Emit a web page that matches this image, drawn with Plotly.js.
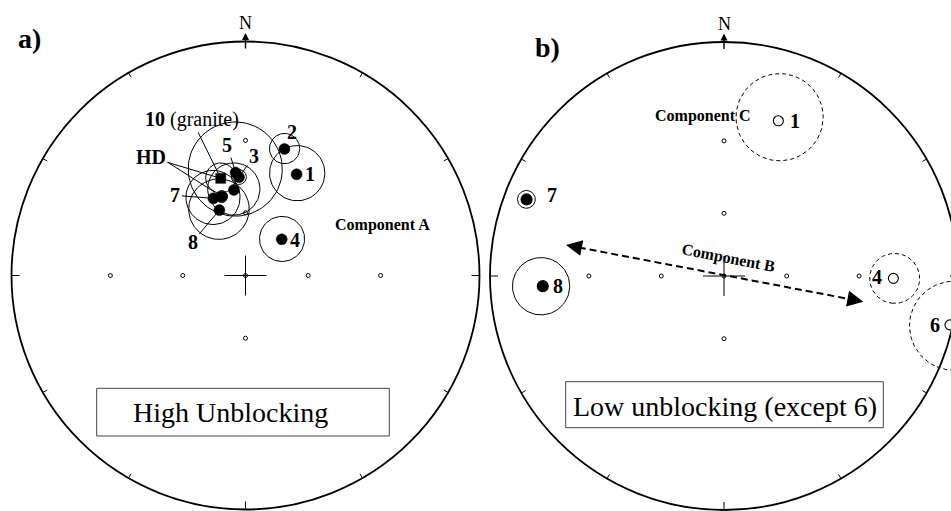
<!DOCTYPE html>
<html>
<head>
<meta charset="utf-8">
<script src="https://cdn.plot.ly/plotly-3.0.1.min.js"></script>
<style>
  html, body { margin: 0; padding: 0; background: #fff; overflow: hidden; }
  #chart { width: 951px; height: 511px; }
</style>
</head>
<body>
<div id="chart"></div>
<script>
// ---------- Panel a: high-unblocking site means (lower hemisphere) ----------
const siteA = ['1', '2', '3', '4', '5', '7', '8', '', '10', 'HD'];
const decA  = [26.8, 17.1, 356.2, 45.0, 354.5, 337.4, 338.2, 352.3, 345.7, 343.2];
const incA  = [38.3, 31.0, 44.3, 65.3, 42.3, 50.7, 56.5, 49.5, 43.6, 51.2];
const a95A  = [10.9, 5.6, 3.1, 10.5, 19.0, 11.7, 13.5, 11.2, 6.2, 2.6];
const symA  = ['circle', 'circle', 'circle', 'circle', 'circle', 'circle', 'circle', 'circle', 'square', 'circle'];

// ---------- Panel b: low-unblocking site means (negative inclination = upper hemisphere) ----------
const siteB = ['1', '4', '6', '7', '8'];
const decB  = [19.3, 90.8, 102.2, 291.2, 266.8];
const incB  = [-19.8, -18.2, -0.7, 5.7, 14.4];
const a95B  = [14.1, 8.0, 10.9, 2.4, 8.7];

// Net furniture: reference dots at these inclinations / declinations, ticks on the primitive
const gridInc = [60, 30];
const gridDec = [0, 90, 180, 270];
const tickDec = [30, 60, 90, 120, 150, 180, 210, 240, 270, 300, 330];

// ---------- page geometry ----------
const W = 951, H = 511, R = 234;            // primitive radius in px
const CA = [245.5, 275.5], CB = [724, 276]; // net centres in px
const SERIF = 'Liberation Serif, Times New Roman, serif';
const rad = Math.PI / 180;

// Stereographic (equal-angle) projection, |inc| so upper-hemisphere points share the plot
function proj(dec, inc) {
  const d = dec * rad, i = Math.abs(inc) * rad;
  const x = Math.cos(i) * Math.sin(d), y = Math.cos(i) * Math.cos(d), z = Math.sin(i);
  return [x / (1 + z), y / (1 + z)];
}
// Cone of confidence (small circle of radius a95 about the mean) projected point by point
function smallCircle(dec, inc, a95) {
  const d = dec * rad, i = Math.abs(inc) * rad, a = a95 * rad;
  const v = [Math.cos(i) * Math.sin(d), Math.cos(i) * Math.cos(d), Math.sin(i)];
  const e1 = [Math.cos(d), -Math.sin(d), 0];
  const e2 = [Math.sin(i) * Math.sin(d), Math.sin(i) * Math.cos(d), -Math.cos(i)];
  const xs = [], ys = [];
  for (let t = 0; t <= 360; t += 4) {
    const c = Math.cos(t * rad), s = Math.sin(t * rad);
    const p = [0, 1, 2].map(k => Math.cos(a) * v[k] + Math.sin(a) * (c * e1[k] + s * e2[k]));
    xs.push(p[0] / (1 + p[2]));
    ys.push(p[1] / (1 + p[2]));
  }
  return [xs, ys];
}

const traces = [];
const shapes = [];
const annotations = [];

function circlesTrace(decs, incs, a95s, keep, dash, xa, ya) {
  const xs = [], ys = [];
  decs.forEach((d, k) => {
    if (!keep(k)) return;
    const [cx, cy] = smallCircle(d, incs[k], a95s[k]);
    xs.push(...cx, null); ys.push(...cy, null);
  });
  return { x: xs, y: ys, mode: 'lines', xaxis: xa, yaxis: ya,
           line: { color: '#000', width: 1, dash: dash }, hoverinfo: 'skip' };
}

const txt = (o) => Object.assign({ showarrow: false, xanchor: 'center', yanchor: 'middle' }, o);

function netFurniture(xa, ya, xref, yref) {
  // primitive circle
  shapes.push({ type: 'circle', xref, yref, x0: -1, x1: 1, y0: -1, y1: 1,
                line: { color: '#000', width: 1.8 } });
  // ticks every 30 degrees, longer at E, S, W
  tickDec.forEach(d => {
    const L = (d % 90 === 0 ? 8 : 5) / R;
    const sx = Math.sin(d * rad), sy = Math.cos(d * rad);
    shapes.push({ type: 'line', xref, yref, x0: sx, y0: sy, x1: (1 - L) * sx, y1: (1 - L) * sy,
                  line: { color: '#000', width: 1 } });
  });
  // central cross
  shapes.push({ type: 'line', xref, yref, x0: -21 / R, x1: 21 / R, y0: 0, y1: 0, line: { color: '#000', width: 1 } });
  shapes.push({ type: 'line', xref, yref, x0: 0, x1: 0, y0: -20 / R, y1: 20 / R, line: { color: '#000', width: 1 } });
  // reference dots
  const gx = [0], gy = [0];
  gridInc.forEach(i => gridDec.forEach(d => { const p = proj(d, i); gx.push(p[0]); gy.push(p[1]); }));
  traces.push({ x: gx, y: gy, mode: 'markers', xaxis: xa, yaxis: ya, hoverinfo: 'skip',
                marker: { symbol: 'circle-open', size: 4, color: '#000', opacity: 1, line: { width: 1, color: '#000' } } });
  // north arrow and label
  annotations.push({ xref, yref, x: 0, y: 1 + 8.5 / R, ax: 0, ay: 17, text: '', showarrow: true,
                     arrowhead: 2, arrowsize: 1, arrowwidth: 1.4, arrowcolor: '#000', standoff: 0 });
  annotations.push(txt({ xref, yref, x: 0, y: 1 + 18.5 / R, text: 'N',
                         font: { family: SERIF, size: 18, color: '#000' } }));
}

// ---------------- panel a ----------------
netFurniture('x', 'y', 'x', 'y');
traces.push(circlesTrace(decA, incA, a95A, k => true, 'solid', 'x', 'y'));
{
  const pts = decA.map((d, k) => proj(d, incA[k]));
  traces.push({ x: pts.map(p => p[0]), y: pts.map(p => p[1]), mode: 'markers', xaxis: 'x', yaxis: 'y',
                text: siteA, hoverinfo: 'text',
                marker: { symbol: symA, size: symA.map(s => s === 'square' ? 10 : 11), color: '#000',
                          opacity: 1, line: { width: 0.5, color: '#000' } } });
}
const pA = name => proj(decA[siteA.indexOf(name)], incA[siteA.indexOf(name)]);
const labFont = { family: SERIF, size: 20, color: '#000' };
// plain labels beside the marks
[['1', 13, 0], ['2', 8, 17], ['4', 13, -1]].forEach(([n, dx, dy]) => {
  const p = pA(n);
  annotations.push(txt({ xref: 'x', yref: 'y', x: p[0], y: p[1], text: '<b>' + n + '</b>',
                         xshift: dx, yshift: dy, font: labFont }));
});
// labels with leader lines
const leader = (o) => Object.assign({ showarrow: true, arrowhead: 0, arrowwidth: 1, arrowcolor: '#000',
                                      font: labFont, xref: 'x', yref: 'y' }, o);
[['5', -8.5, -27.5], ['3', 15, -21], ['7', -38, -3], ['8', -26.5, 31.5]].forEach(([n, ax, ay]) => {
  const p = pA(n);
  annotations.push(leader({ x: p[0], y: p[1], ax, ay, text: '<b>' + n + '</b>', standoff: 5 }));
});
{
  const p10 = pA('10'), pHD = pA('HD');
  annotations.push(leader({ x: p10[0], y: p10[1], ax: -29, ay: -59, text: '<b>10</b> (granite)', standoff: 5 }));
  annotations.push(leader({ x: p10[0], y: p10[1], ax: -70, ay: -21, text: '<b>HD</b>', standoff: 5 }));
  annotations.push(leader({ x: pHD[0], y: pHD[1], ax: -55, ay: -35, text: '', standoff: 8 }));
}
annotations.push(txt({ xref: 'x', yref: 'y', x: (382 - CA[0]) / R, y: (CA[1] - 225) / R,
                       text: '<b>Component A</b>', font: { family: SERIF, size: 16, color: '#000' } }));

// ---------------- panel b ----------------
netFurniture('x2', 'y2', 'x2', 'y2');
traces.push(circlesTrace(decB, incB, a95B, k => incB[k] >= 0, 'solid', 'x2', 'y2'));
traces.push(circlesTrace(decB, incB, a95B, k => incB[k] < 0, '4px,3px', 'x2', 'y2'));
{
  const pts = decB.map((d, k) => proj(d, incB[k]));
  traces.push({ x: pts.map(p => p[0]), y: pts.map(p => p[1]), mode: 'markers', xaxis: 'x2', yaxis: 'y2',
                text: siteB, hoverinfo: 'text',
                marker: { symbol: incB.map(i => i < 0 ? 'circle-open' : 'circle'),
                          size: incB.map(i => i < 0 ? 10 : 11), color: '#000', opacity: 1,
                          line: { width: 1.1, color: '#000' } } });
}
const pB = name => proj(decB[siteB.indexOf(name)], incB[siteB.indexOf(name)]);
[['1', 17, 0], ['4', -16.5, 1.5], ['6', -15, 0], ['7', 25, 4], ['8', 15.5, 0]].forEach(([n, dx, dy]) => {
  const p = pB(n);
  annotations.push(txt({ xref: 'x2', yref: 'y2', x: p[0], y: p[1], xshift: dx, yshift: dy,
                         text: '<b>' + n + '</b>', font: labFont }));
});
annotations.push(txt({ xref: 'x2', yref: 'y2', x: (703 - CB[0]) / R, y: (CB[1] - 116) / R,
                       text: '<b>Component C</b>', font: { family: SERIF, size: 16, color: '#000' } }));
annotations.push(txt({ xref: 'x2', yref: 'y2', x: (728 - CB[0]) / R, y: (CB[1] - 258) / R, textangle: 11,
                       text: '<b>Component B</b>', font: { family: SERIF, size: 16, color: '#000' } }));
// double-headed dashed arrow for the component B trend (px offsets from the centre, y up)
{
  const P1 = [-158, 31], P2 = [139.3, -25.7];
  const len = Math.hypot(P2[0] - P1[0], P2[1] - P1[1]);
  const u = [(P2[0] - P1[0]) / len, (P2[1] - P1[1]) / len];
  const hl = 13;
  shapes.push({ type: 'line', xref: 'x2', yref: 'y2',
                x0: (P1[0] + hl * u[0]) / R, y0: (P1[1] + hl * u[1]) / R,
                x1: (P2[0] - hl * u[0]) / R, y1: (P2[1] - hl * u[1]) / R,
                line: { color: '#000', width: 2, dash: '7px,4px' } });
  [[P1, 1], [P2, -1]].forEach(([P, sgn]) => {
    annotations.push({ xref: 'x2', yref: 'y2', x: P[0] / R, y: P[1] / R, text: '', showarrow: true,
                       ax: sgn * 14 * u[0], ay: -sgn * 14 * u[1], arrowhead: 2, arrowsize: 1.6,
                       arrowwidth: 2, arrowcolor: '#000', standoff: 0 });
  });
}

// ---------------- panel letters and captions ----------------
const px = (x, y) => ({ xref: 'paper', yref: 'paper', x: x / W, y: 1 - y / H });
annotations.push(txt(Object.assign(px(29.5, 38), { text: '<b>a)</b>',
                 font: { family: SERIF, size: 28, color: '#000' } })));
annotations.push(txt(Object.assign(px(547.5, 47), { text: '<b>b)</b>',
                 font: { family: SERIF, size: 28, color: '#000' } })));

shapes.push({ type: 'rect', xref: 'paper', yref: 'paper', layer: 'above',
              x0: 96.7 / W, x1: 389.3 / W, y0: 1 - 436 / H, y1: 1 - 388.3 / H,
              fillcolor: '#fff', line: { color: '#444', width: 1 } });
shapes.push({ type: 'rect', xref: 'paper', yref: 'paper', layer: 'above',
              x0: 565.7 / W, x1: 883.3 / W, y0: 1 - 427.7 / H, y1: 1 - 381.7 / H,
              fillcolor: '#fff', line: { color: '#444', width: 1 } });
annotations.push(txt(Object.assign(px(230, 412), { text: 'High Unblocking',
                 font: { family: SERIF, size: 28, color: '#000' } })));
annotations.push(txt(Object.assign(px(724.5, 406.5), { text: 'Low unblocking (except 6)',
                 font: { family: SERIF, size: 28, color: '#000' } })));

const ax = (lo, hi, extra) => Object.assign({ range: [lo, hi], visible: false, fixedrange: true,
                                              domain: [0, 1] }, extra || {});
const layout = {
  width: W, height: H,
  margin: { l: 0, r: 0, t: 0, b: 0, pad: 0 },
  paper_bgcolor: '#fff', plot_bgcolor: 'rgba(0,0,0,0)',
  showlegend: false, hovermode: 'closest',
  xaxis:  ax(-CA[0] / R, (W - CA[0]) / R, { anchor: 'y' }),
  yaxis:  ax(-(H - CA[1]) / R, CA[1] / R, { anchor: 'x' }),
  xaxis2: ax(-CB[0] / R, (W - CB[0]) / R, { anchor: 'y2', overlaying: 'x' }),
  yaxis2: ax(-(H - CB[1]) / R, CB[1] / R, { anchor: 'x2', overlaying: 'y' }),
  shapes, annotations
};

Plotly.newPlot('chart', traces, layout, { displayModeBar: false, staticPlot: true });
</script>
</body>
</html>
